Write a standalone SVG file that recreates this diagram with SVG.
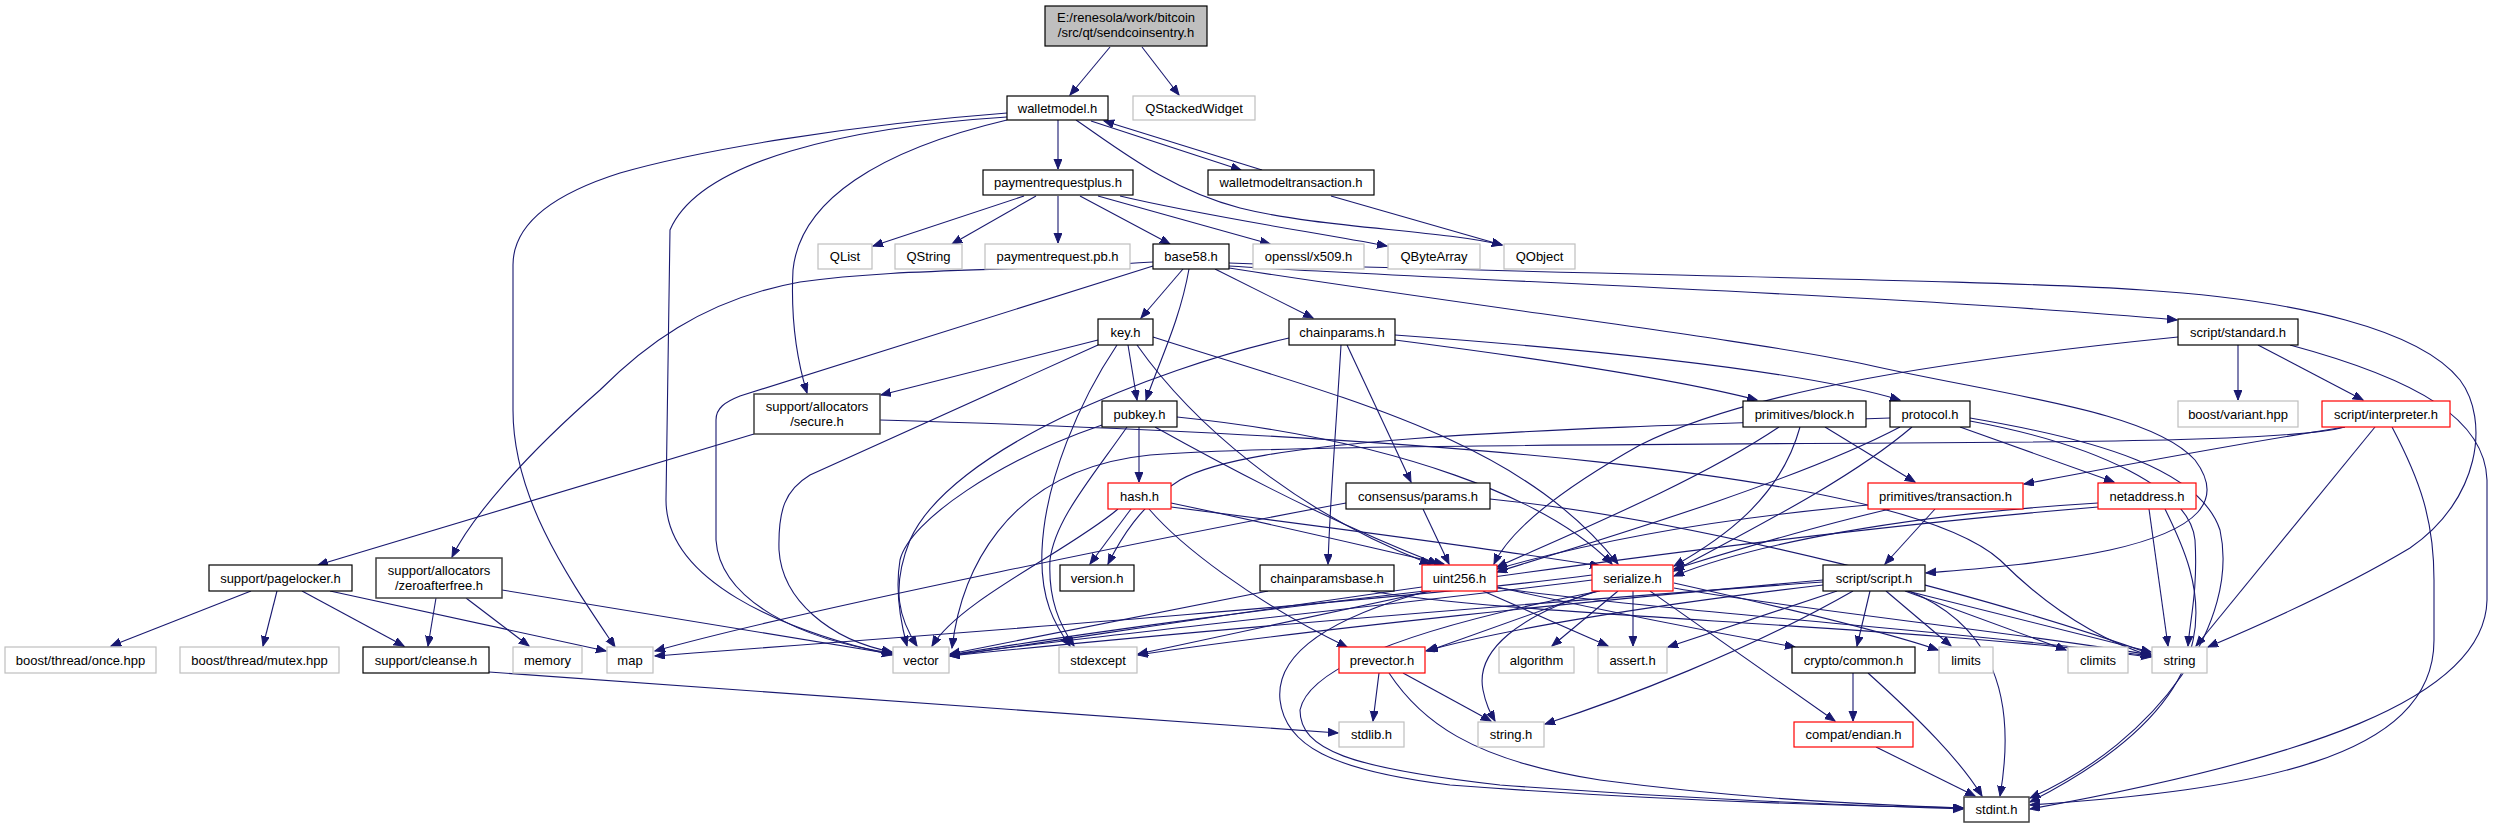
<svg xmlns="http://www.w3.org/2000/svg" width="2494" height="828" viewBox="0 0 2494 828">
<defs>
<style>
.n rect{fill:#ffffff;stroke:#000000;stroke-width:1.2}
.n.g rect{stroke:#bfbfbf}
.n.r rect{stroke:#ff0000}
.n.d rect{stroke:#404040;stroke-width:1.5}
.n.root rect{fill:#bfbfbf}
.n text{font-family:"Liberation Sans",Arial,sans-serif;font-size:13px;fill:#000000;text-anchor:middle}
#edges path{fill:none;stroke:#191970;stroke-width:1.1;marker-end:url(#arr)}
</style>
<marker id="arr" markerUnits="userSpaceOnUse" markerWidth="12" markerHeight="10" refX="10" refY="4" orient="auto">
<path d="M0,0 L10,4 L0,8 z" fill="#191970" stroke="#191970" stroke-width="1"/>
</marker>
</defs>
<rect width="2494" height="828" fill="#ffffff"/>
<g id="edges">
<path d="M1110,47 L1070,95"/>
<path d="M1142,47 L1179,95"/>
<path d="M1091,121 L1241,170"/>
<path d="M1262,170 L1104,121"/>
<path d="M1058,120 L1058,169"/>
<path d="M1076,120 C1120,150 1170,190 1240,208 C1320,228 1440,230 1502,245"/>
<path d="M1331,196 L1502,245"/>
<path d="M1007,113 C850,125 700,150 620,173 C560,192 513,220 513,265 L513,410 C513,500 570,580 615,647"/>
<path d="M1007,117 C850,127 700,160 670,230 L666,500 C666,580 780,630 892,655"/>
<path d="M1007,120 C880,150 800,200 793,270 C790,330 800,370 807,393"/>
<path d="M1024,196 L873,246"/>
<path d="M1036,196 L952,244"/>
<path d="M1058,196 L1058,243"/>
<path d="M1080,196 L1170,244"/>
<path d="M1098,196 L1270,244"/>
<path d="M1120,196 C1200,215 1300,230 1387,246"/>
<path d="M1183,269 L1141,318"/>
<path d="M1189,269 C1180,320 1160,360 1146,400"/>
<path d="M1215,269 L1313,318"/>
<path d="M1229,266 C1450,280 1900,295 2177,320"/>
<path d="M1229,263 C1600,275 2000,280 2143,290 C2300,300 2420,330 2460,380 C2490,420 2480,500 2410,548 C2340,590 2260,625 2208,647"/>
<path d="M1229,268 C1500,310 1750,340 1864,364 C2000,395 2150,410 2195,460 C2225,500 2200,530 2110,550 C2040,565 1960,570 1926,573"/>
<path d="M1153,262 C1000,272 900,268 800,282 C700,300 640,350 600,390 C520,460 470,520 452,557"/>
<path d="M1153,266 L740,396 C725,402 716,408 716,420 L716,540 C720,600 800,640 892,653"/>
<path d="M1098,340 L881,395"/>
<path d="M1098,345 L810,475 C785,490 778,510 779,550 C782,600 830,640 892,652"/>
<path d="M1117,345 C1080,400 1045,480 1042,550 C1040,600 1055,625 1070,646"/>
<path d="M1128,345 L1137,400"/>
<path d="M1153,337 C1350,400 1520,440 1618,564"/>
<path d="M1137,345 C1190,420 1290,510 1430,564"/>
<path d="M1139,427 L1139,482"/>
<path d="M1102,425 C1000,460 910,520 900,560 C895,590 900,620 907,646"/>
<path d="M1127,427 C1090,480 1055,520 1050,560 C1048,600 1060,625 1074,646"/>
<path d="M1155,427 C1250,480 1350,530 1438,564"/>
<path d="M1177,417 C1400,440 1550,500 1612,564"/>
<path d="M1131,509 L1090,564"/>
<path d="M1118,509 C1070,550 960,600 932,646"/>
<path d="M1149,509 C1180,545 1250,600 1347,647"/>
<path d="M1171,503 C1300,530 1380,550 1444,564"/>
<path d="M1171,507 C1350,530 1500,550 1600,566"/>
<path d="M1346,503 C1200,530 800,610 655,651"/>
<path d="M1341,345 C1336,430 1330,500 1328,564"/>
<path d="M1347,345 L1411,482"/>
<path d="M1395,340 C1550,360 1680,380 1757,400"/>
<path d="M1395,335 C1600,350 1800,370 1900,400"/>
<path d="M1289,338 C1150,370 950,450 910,540 C890,590 900,620 917,646"/>
<path d="M1423,509 L1449,564"/>
<path d="M1490,499 C1700,520 2000,600 2151,654"/>
<path d="M1825,427 L1915,482"/>
<path d="M1800,427 C1780,500 1720,540 1674,566"/>
<path d="M1779,427 C1700,480 1580,530 1497,567"/>
<path d="M1960,427 L2114,482"/>
<path d="M1912,427 C1850,480 1750,530 1674,571"/>
<path d="M1900,427 C1800,480 1600,540 1497,572"/>
<path d="M1890,418 C1500,430 1250,440 1180,480 C1140,505 1120,540 1108,564"/>
<path d="M1970,418 C2100,440 2200,470 2220,530 C2240,620 2160,740 2030,798"/>
<path d="M1970,421 C2100,445 2190,490 2195,540 C2198,590 2190,620 2188,646"/>
<path d="M2098,503 C1900,515 1750,545 1674,576"/>
<path d="M2165,509 C2200,580 2250,690 2030,802"/>
<path d="M2149,509 L2168,646"/>
<path d="M2098,507 C1700,540 1200,620 950,656"/>
<path d="M1935,509 L1885,564"/>
<path d="M1890,509 C1800,530 1720,555 1674,569"/>
<path d="M1868,505 C1700,520 1580,545 1497,569"/>
<path d="M2238,345 L2238,400"/>
<path d="M2258,345 L2363,400"/>
<path d="M2178,337 C1950,360 1750,390 1640,445 C1560,490 1510,530 1494,564"/>
<path d="M2290,345 C2420,380 2485,420 2487,480 L2487,600 C2485,700 2300,760 2030,809"/>
<path d="M2345,427 C2200,450 2100,470 2024,484"/>
<path d="M2345,427 C2300,440 2100,442 1900,443 C1500,445 1250,447 1150,455 C1000,470 960,580 952,648"/>
<path d="M2375,427 L2196,646"/>
<path d="M2392,427 C2420,480 2434,520 2434,580 L2434,640 C2434,760 2250,790 2030,805"/>
<path d="M754,434 L318,565"/>
<path d="M880,420 C1400,435 1900,470 2000,560 C2050,610 2100,640 2151,656"/>
<path d="M251,591 L111,646"/>
<path d="M277,591 L263,646"/>
<path d="M302,591 L404,646"/>
<path d="M330,591 L606,651"/>
<path d="M436,598 L428,646"/>
<path d="M466,598 L529,646"/>
<path d="M502,590 L892,654"/>
<path d="M489,672 L1338,733"/>
<path d="M1371,591 C1500,615 1900,625 2151,657"/>
<path d="M1268,591 L950,654"/>
<path d="M1483,591 L1608,646"/>
<path d="M1497,587 C1600,610 1700,630 1795,647"/>
<path d="M1431,591 L1138,654"/>
<path d="M1428,591 C1340,615 1275,650 1280,700 C1285,745 1330,770 1450,785 C1650,800 1850,806 1963,808"/>
<path d="M1600,591 C1450,620 1310,660 1300,710 C1300,750 1350,768 1500,785 C1700,800 1850,805 1963,809"/>
<path d="M1497,588 C1700,615 1950,630 2151,656"/>
<path d="M1425,591 C1300,605 1100,630 950,655"/>
<path d="M1596,591 L1428,651"/>
<path d="M1618,591 L1552,646"/>
<path d="M1633,591 L1633,646"/>
<path d="M1650,591 C1720,640 1790,690 1835,721"/>
<path d="M1598,591 C1520,615 1475,650 1483,690 C1486,705 1490,712 1495,721"/>
<path d="M1674,583 C1750,600 1880,630 1938,650"/>
<path d="M1674,588 C1800,610 2000,630 2151,655"/>
<path d="M1592,575 C1400,600 1000,630 655,656"/>
<path d="M1592,580 C1350,610 1100,635 950,655"/>
<path d="M1870,591 L1857,646"/>
<path d="M1823,585 C1650,605 1500,630 1426,651"/>
<path d="M1837,591 L1668,647"/>
<path d="M1905,591 L2066,650"/>
<path d="M1886,591 L1951,646"/>
<path d="M1907,591 C2000,615 2080,635 2151,652"/>
<path d="M1853,591 C1750,650 1620,700 1545,724"/>
<path d="M1823,580 C1600,600 1300,630 1138,655"/>
<path d="M1909,591 C1980,620 2020,680 2000,796"/>
<path d="M1823,582 C1500,605 1150,635 950,656"/>
<path d="M1379,673 L1373,721"/>
<path d="M1403,673 L1491,721"/>
<path d="M1389,673 C1420,720 1470,760 1600,780 C1750,800 1880,805 1963,808"/>
<path d="M1853,673 L1853,721"/>
<path d="M1868,673 C1920,720 1960,760 1982,796"/>
<path d="M1876,747 L1975,796"/>
</g>
<g id="n_root" class="n root"><rect x="1045" y="6" width="162" height="40"/><text x="1126" y="22">E:/renesola/work/bitcoin</text><text x="1126" y="37">/src/qt/sendcoinsentry.h</text></g>
<g id="n_walletmodel" class="n"><rect x="1007" y="96" width="101" height="24"/><text x="1057.5" y="112.5">walletmodel.h</text></g>
<g id="n_qstackedwidget" class="n g"><rect x="1133" y="96" width="122" height="24"/><text x="1194" y="112.5">QStackedWidget</text></g>
<g id="n_paymentrequestplus" class="n"><rect x="983" y="170" width="150" height="25"/><text x="1058" y="187">paymentrequestplus.h</text></g>
<g id="n_walletmodeltransaction" class="n"><rect x="1208" y="170" width="166" height="25"/><text x="1291" y="187">walletmodeltransaction.h</text></g>
<g id="n_qlist" class="n g"><rect x="818" y="244" width="54" height="25"/><text x="845" y="261">QList</text></g>
<g id="n_qstring" class="n g"><rect x="895" y="244" width="67" height="25"/><text x="928.5" y="261">QString</text></g>
<g id="n_paymentrequestpb" class="n g"><rect x="985" y="244" width="145" height="25"/><text x="1057.5" y="261">paymentrequest.pb.h</text></g>
<g id="n_base58" class="n"><rect x="1153" y="244" width="76" height="25"/><text x="1191" y="261">base58.h</text></g>
<g id="n_x509" class="n g"><rect x="1253" y="244" width="111" height="25"/><text x="1308.5" y="261">openssl/x509.h</text></g>
<g id="n_qbytearray" class="n g"><rect x="1388" y="244" width="92" height="25"/><text x="1434" y="261">QByteArray</text></g>
<g id="n_qobject" class="n g"><rect x="1504" y="244" width="71" height="25"/><text x="1539.5" y="261">QObject</text></g>
<g id="n_key" class="n"><rect x="1098" y="319" width="55" height="26"/><text x="1125.5" y="336.5">key.h</text></g>
<g id="n_chainparams" class="n"><rect x="1289" y="319" width="106" height="26"/><text x="1342" y="336.5">chainparams.h</text></g>
<g id="n_standard" class="n"><rect x="2178" y="319" width="120" height="26"/><text x="2238" y="336.5">script/standard.h</text></g>
<g id="n_secure" class="n d"><rect x="754" y="394" width="126" height="40"/><text x="817" y="411">support/allocators</text><text x="817" y="426">/secure.h</text></g>
<g id="n_pubkey" class="n"><rect x="1102" y="401" width="75" height="26"/><text x="1139.5" y="418.5">pubkey.h</text></g>
<g id="n_block" class="n"><rect x="1743" y="401" width="123" height="26"/><text x="1804.5" y="418.5">primitives/block.h</text></g>
<g id="n_protocol" class="n"><rect x="1890" y="401" width="80" height="26"/><text x="1930" y="418.5">protocol.h</text></g>
<g id="n_variant" class="n g"><rect x="2178" y="401" width="120" height="26"/><text x="2238" y="418.5">boost/variant.hpp</text></g>
<g id="n_interpreter" class="n r"><rect x="2322" y="401" width="128" height="26"/><text x="2386" y="418.5">script/interpreter.h</text></g>
<g id="n_hash" class="n r"><rect x="1108" y="483" width="63" height="26"/><text x="1139.5" y="500.5">hash.h</text></g>
<g id="n_consensus" class="n"><rect x="1346" y="483" width="144" height="26"/><text x="1418" y="500.5">consensus/params.h</text></g>
<g id="n_transaction" class="n r"><rect x="1868" y="483" width="155" height="26"/><text x="1945.5" y="500.5">primitives/transaction.h</text></g>
<g id="n_netaddress" class="n r"><rect x="2098" y="483" width="98" height="26"/><text x="2147" y="500.5">netaddress.h</text></g>
<g id="n_pagelocker" class="n"><rect x="209" y="565" width="143" height="26"/><text x="280.5" y="582.5">support/pagelocker.h</text></g>
<g id="n_zeroafterfree" class="n d"><rect x="376" y="558" width="126" height="40"/><text x="439" y="575">support/allocators</text><text x="439" y="590">/zeroafterfree.h</text></g>
<g id="n_version" class="n"><rect x="1060" y="565" width="74" height="26"/><text x="1097" y="582.5">version.h</text></g>
<g id="n_chainparamsbase" class="n"><rect x="1260" y="565" width="134" height="26"/><text x="1327" y="582.5">chainparamsbase.h</text></g>
<g id="n_uint256" class="n r"><rect x="1422" y="565" width="75" height="26"/><text x="1459.5" y="582.5">uint256.h</text></g>
<g id="n_serialize" class="n r"><rect x="1592" y="565" width="81" height="26"/><text x="1632.5" y="582.5">serialize.h</text></g>
<g id="n_script" class="n"><rect x="1823" y="565" width="102" height="26"/><text x="1874" y="582.5">script/script.h</text></g>
<g id="n_once" class="n g"><rect x="5" y="647" width="151" height="26"/><text x="80.5" y="664.5">boost/thread/once.hpp</text></g>
<g id="n_mutex" class="n g"><rect x="180" y="647" width="159" height="26"/><text x="259.5" y="664.5">boost/thread/mutex.hpp</text></g>
<g id="n_cleanse" class="n"><rect x="363" y="647" width="126" height="26"/><text x="426" y="664.5">support/cleanse.h</text></g>
<g id="n_memory" class="n g"><rect x="513" y="647" width="69" height="26"/><text x="547.5" y="664.5">memory</text></g>
<g id="n_map" class="n g"><rect x="607" y="647" width="46" height="26"/><text x="630" y="664.5">map</text></g>
<g id="n_vector" class="n g"><rect x="893" y="647" width="56" height="26"/><text x="921" y="664.5">vector</text></g>
<g id="n_stdexcept" class="n g"><rect x="1059" y="647" width="78" height="26"/><text x="1098" y="664.5">stdexcept</text></g>
<g id="n_prevector" class="n r"><rect x="1339" y="647" width="86" height="26"/><text x="1382" y="664.5">prevector.h</text></g>
<g id="n_algorithm" class="n g"><rect x="1499" y="647" width="75" height="26"/><text x="1536.5" y="664.5">algorithm</text></g>
<g id="n_assert" class="n g"><rect x="1598" y="647" width="69" height="26"/><text x="1632.5" y="664.5">assert.h</text></g>
<g id="n_common" class="n"><rect x="1792" y="647" width="123" height="26"/><text x="1853.5" y="664.5">crypto/common.h</text></g>
<g id="n_limits" class="n g"><rect x="1939" y="647" width="54" height="26"/><text x="1966" y="664.5">limits</text></g>
<g id="n_climits" class="n g"><rect x="2068" y="647" width="60" height="26"/><text x="2098" y="664.5">climits</text></g>
<g id="n_string" class="n g"><rect x="2152" y="647" width="55" height="26"/><text x="2179.5" y="664.5">string</text></g>
<g id="n_stdlib" class="n g"><rect x="1339" y="722" width="65" height="25"/><text x="1371.5" y="739">stdlib.h</text></g>
<g id="n_stringh" class="n g"><rect x="1478" y="722" width="66" height="25"/><text x="1511" y="739">string.h</text></g>
<g id="n_endian" class="n r"><rect x="1794" y="722" width="119" height="25"/><text x="1853.5" y="739">compat/endian.h</text></g>
<g id="n_stdint" class="n d"><rect x="1964" y="797" width="65" height="25"/><text x="1996.5" y="814">stdint.h</text></g>
</svg>
